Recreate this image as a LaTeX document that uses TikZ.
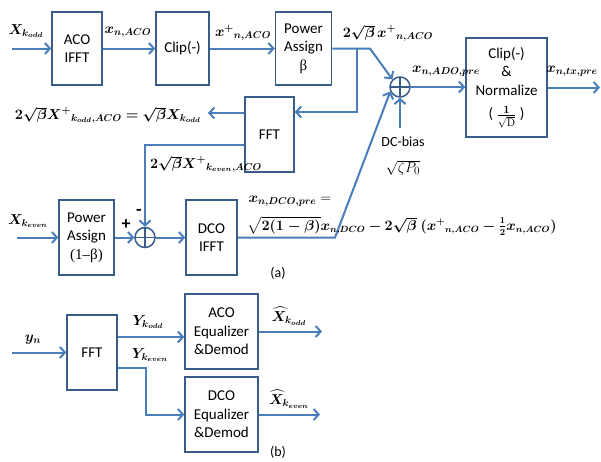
\documentclass[tikz,border=0pt]{standalone}
\usepackage{amsmath}
\usepackage{bm}
\usepackage[no-math]{fontspec}
\setmainfont{Carlito}
\newfontfamily\serif{Liberation Serif}
\usetikzlibrary{arrows.meta}
\definecolor{lineblue}{RGB}{74,126,187}
\definecolor{boxblue}{RGB}{56,93,138}

\begin{document}
\begin{tikzpicture}[x=1pt, y=-1pt,
        blk/.style={draw=boxblue, line width=1.5pt, minimum width=#1, minimum height=75pt,
            align=center, inner sep=0pt, font=\fontsize{15}{18.5}\selectfont},
        blk/.default=50pt,
        sig/.style={draw=lineblue, line width=2pt, -{Straight Barb[length=5pt,width=11pt]}},
        lbl/.style={font=\fontsize{14}{16}\selectfont, inner sep=1pt},
        sumnode/.style={circle, draw=boxblue, line width=1.5pt, minimum size=20pt, inner sep=0pt,
            path picture={\draw[boxblue, line width=1.2pt]
                (path picture bounding box.north) -- (path picture bounding box.south)
                (path picture bounding box.west) -- (path picture bounding box.east);}}]

        \useasboundingbox (0,0) rectangle (601,461);

        % (a) ACO branch
        \node[blk=50pt, minimum height=73pt] (acoifft) at (77,48.5) {ACO\\IFFT};
        \node[blk=53pt, minimum height=73pt] (clip) at (182.5,48.5) {Clip(-)};
        \node[blk=56pt, minimum height=73pt] (pwr) at (303.5,48.5) {Power\\Assign\\{\serif β}};
        \node[sumnode] (sum) at (400,87) {};
        \node[blk=81pt, minimum height=99pt] (clipnorm) at (506.5,87.5)
            {Clip(-)\\\&\\Normalize\\[5pt] ( $\frac{\mathbf{1}}{\sqrt{\mathrm{D}}}$ )};
        \node[blk=49pt] (fftfb) at (269.5,134.5) {FFT};

        \coordinate (inodd) at (12,48.5);
        \coordinate (split) at (357,48.5);
        \coordinate (bend) at (370,48.5);
        \coordinate (fbk) at (357,112);
        \coordinate (oddout) at (208,113);
        \coordinate (evenfb) at (145,145);
        \coordinate (dcin) at (400,128);
        \coordinate (txout) at (600,87.5);

        \draw[sig] (inodd) -- (acoifft);
        \draw[sig] (acoifft) -- (clip);
        \draw[sig] (clip) -- (pwr);
        \draw[sig] (pwr.east) -- (bend) -- (sum.135);
        \draw[sig] (split) -- (fbk) -- (fbk -| fftfb.east);
        \draw[sig] (oddout -| fftfb.west) -- (oddout);
        \draw[sig] (dcin) -- (sum.south);
        \draw[sig] (sum.east) -- (sum.east -| clipnorm.west);
        \draw[sig] (clipnorm) -- (txout);

        % (a) DCO branch
        \node[blk=55pt] (pwr2) at (86.5,237.5) {Power\\Assign\\{\serif(1–β)}};
        \node[sumnode] (sum2) at (145,237.5) {};
        \node[blk=51pt] (dcoifft) at (211.5,237.5) {DCO\\IFFT};

        \coordinate (ineven) at (17,237.5);
        \coordinate (dcobend) at (335,237.5);

        \draw[sig] (evenfb -| fftfb.west) -- (evenfb) -- (sum2.north);
        \draw[sig] (ineven) -- (pwr2);
        \draw[sig] (pwr2) -- (sum2);
        \draw[sig] (sum2) -- (dcoifft);
        \draw[sig] (dcoifft) -- (dcobend) -- (sum.205);

        % (a) labels
        \node[lbl] (lxodd) at (26,31) {$\bm{X_{k_{odd}}}$};
        \node[lbl] (lxaco) at (128,32) {$\bm{x_{n,ACO}}$};
        \node[lbl] (lxplus) at (243,33) {$\bm{x^{+}{}_{n,ACO}}$};
        \node[lbl] (lxpa) at (388,33) {$\bm{2\sqrt{\beta}\,x^{+}{}_{n,ACO}}$};
        \node[lbl] (lxado) at (446,71) {$\bm{x_{n,ADO,pre}}$};
        \node[lbl] (lxtx) at (572,71) {$\bm{x_{n,tx,pre}}$};
        \node[lbl] (lfbodd) at (108,115) {$\bm{2\sqrt{\beta}X^{+}{}_{k_{odd},ACO} = \sqrt{\beta}X_{k_{odd}}}$};
        \node[lbl] (lfbeven) at (206,164) {$\bm{2\sqrt{\beta}X^{+}{}_{k_{even},ACO}}$};
        \node[font=\fontsize{14}{16}\selectfont, inner sep=1pt] (ldc) at (403,142) {DC-bias};
        \node[lbl, font=\fontsize{15}{17}\selectfont] (ldcval) at (403,168) {$\sqrt{\zeta P_0}$};
        \node[lbl] (lxeven) at (28,221) {$\bm{X_{k_{even}}}$};
        \node[font=\fontsize{18}{18}\selectfont\bfseries] (lplus) at (126,225) {+};
        \node[font=\fontsize{18}{18}\selectfont\bfseries] (lminus) at (139,212) {-};
        \node[lbl] (ldcopre) at (290,201) {$\bm{x_{n,DCO,pre}} =$};
        \node[lbl, anchor=west, font=\fontsize{13.4}{16}\selectfont] (ldcoexp) at (246,226)
            {$\bm{\sqrt{2(1-\beta)}x_{n,DCO} - 2\sqrt{\beta}\;(x^{+}{}_{n,ACO} - \tfrac{1}{2}x_{n,ACO})}$};
        \node[font=\fontsize{14}{16}\selectfont] (lcapa) at (278,273) {(a)};

        % (b) receiver
        \node[blk=50pt] (fftrx) at (92,352.5) {FFT};
        \node[blk=73pt] (acoeq) at (221.5,331.5) {ACO\\Equalizer\\\&Demod};
        \node[blk=73pt] (dcoeq) at (221.5,414.5) {DCO\\Equalizer\\\&Demod};

        \coordinate (yin) at (12,352.5);
        \coordinate (oddrx) at (146,337);
        \coordinate (evenrx) at (146,368);
        \coordinate (xoddhat) at (322,331.5);
        \coordinate (xevenhat) at (320,414.5);

        \draw[sig] (yin) -- (fftrx);
        \draw[sig] (oddrx -| fftrx.east) -- (oddrx -| acoeq.west);
        \draw[sig] (evenrx -| fftrx.east) -- (evenrx) |- (dcoeq.west);
        \draw[sig] (acoeq) -- (xoddhat);
        \draw[sig] (dcoeq) -- (xevenhat);

        % (b) labels
        \node[lbl] (lyn) at (33,340) {$\bm{y_n}$};
        \node[lbl] (lyodd) at (148,322) {$\bm{Y_{k_{odd}}}$};
        \node[lbl] (lyeven) at (150,355) {$\bm{Y_{k_{even}}}$};
        \node[lbl] (lhodd) at (289,316) {$\bm{\widehat{X}_{k_{odd}}}$};
        \node[lbl] (lheven) at (289,399) {$\bm{\widehat{X}_{k_{even}}}$};
        \node[font=\fontsize{14}{16}\selectfont] (lcapb) at (278,452) {(b)};

    \end{tikzpicture}
\end{document}
